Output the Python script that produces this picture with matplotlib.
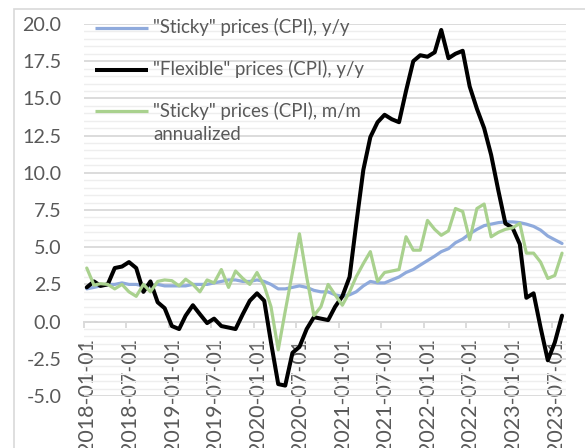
import matplotlib
matplotlib.use("Agg")
import matplotlib.pyplot as plt
import matplotlib.dates as mdates
import matplotlib.transforms as mtransforms
from matplotlib.lines import Line2D
from matplotlib.patches import Rectangle
import numpy as np
import pandas as pd

# ---------------- data ----------------
start_month = "2018-01-01"
n_months = 68
sticky_yy = [2.2, 2.3, 2.4, 2.5, 2.5, 2.6, 2.5, 2.5, 2.4, 2.4,
             2.5, 2.4, 2.4, 2.4, 2.4, 2.5, 2.5, 2.5, 2.6, 2.7,
             2.8, 2.8, 2.7, 2.7, 2.8, 2.7, 2.5, 2.2, 2.2, 2.3,
             2.4, 2.3, 2.1, 2.0, 2.0, 1.8, 1.7, 1.8, 2.0, 2.4,
             2.7, 2.6, 2.6, 2.8, 3.0, 3.3, 3.5, 3.8, 4.1, 4.4,
             4.7, 4.9, 5.3, 5.55, 5.9, 6.2, 6.45, 6.55, 6.65, 6.7,
             6.7, 6.65, 6.55, 6.4, 6.15, 5.75, 5.5, 5.25]
flexible_yy = [2.3, 2.7, 2.4, 2.5, 3.6, 3.7, 4.0, 3.6, 2.0, 2.7,
               1.3, 0.9, -0.3, -0.5, 0.4, 1.1, 0.5, -0.1, 0.2, -0.3,
               -0.4, -0.5, 0.5, 1.4, 1.9, 1.4, -1.4, -4.2, -4.3, -2.1,
               -1.7, -0.5, 0.3, 0.2, 0.1, 1.0, 1.7, 3.0, 6.5, 10.2,
               12.4, 13.4, 13.9, 13.6, 13.4, 15.5, 17.5, 17.9, 17.8, 18.1,
               19.6, 17.7, 18.0, 18.2, 15.8, 14.3, 13.0, 11.2, 8.8, 6.6,
               6.3, 5.2, 1.6, 1.9, -0.4, -2.6, -1.4, 0.4]
sticky_mm = [3.6, 2.45, 2.55, 2.5, 2.2, 2.5, 2.0, 1.7, 2.5, 2.0,
             2.7, 2.8, 2.75, 2.4, 2.85, 2.5, 2.0, 2.8, 2.6, 3.5,
             2.3, 3.4, 2.9, 2.5, 3.3, 2.4, 1.0, -1.9, 0.7, 3.3,
             5.9, 3.0, 0.4, 1.0, 2.5, 1.8, 1.1, 2.0, 3.0, 3.9,
             4.7, 2.7, 3.3, 3.4, 3.5, 5.7, 4.8, 4.8, 6.8, 6.2,
             5.8, 6.1, 7.6, 7.4, 5.5, 7.6, 7.9, 5.7, 6.0, 6.2,
             6.3, 6.6, 4.6, 4.6, 4.0, 2.9, 3.1, 4.6]
series_labels = ['"Sticky" prices (CPI), y/y',
                 '"Flexible" prices (CPI), y/y',
                 '"Sticky" prices (CPI), m/m\nannualized']
series_colors = ["#8FAADC", "#000000", "#A9D18E"]
series_widths = [2.3, 2.9, 2.3]
x_start, x_end = "2018-01-01", "2023-09-01"
tick_dates = pd.date_range("2018-01-01", "2023-07-01", freq="6MS")
y_min, y_max, y_major, y_minor = -5.0, 20.0, 2.5, 0.5

# monthly observations plotted mid-month
dates = pd.date_range(start_month, periods=n_months, freq="MS") + pd.Timedelta(days=14)

# ---------------- figure ----------------
W, H = 585, 448
DPI = 100
fig = plt.figure(figsize=(W / DPI, H / DPI), dpi=DPI)
fig.patch.set_facecolor("white")
plt.rcParams["font.family"] = ["Lato", "DejaVu Sans"]

L, R, T, B = 83.5, 566, 24, 396
ax = fig.add_axes([L / W, 1 - B / H, (R - L) / W, (B - T) / H])

text_col = "#595959"
grid_major = "#D9D9D9"
grid_minor = "#EEEEEE"

all_series = [sticky_yy, flexible_yy, sticky_mm]
for vals, col, lw in zip(all_series, series_colors, series_widths):
    ax.plot(dates, vals, color=col, lw=lw, solid_joinstyle="round",
            solid_capstyle="round", zorder=3)

ax.set_xlim(pd.Timestamp(x_start), pd.Timestamp(x_end))
ax.set_ylim(y_min, y_max)

ax.set_yticks(np.arange(y_min, y_max + 0.01, y_major))
ax.set_yticks(np.arange(y_min, y_max + 0.01, y_minor), minor=True)
ax.yaxis.set_major_formatter(matplotlib.ticker.FormatStrFormatter("%.1f"))
ax.grid(axis="y", which="major", color=grid_major, lw=1.3, zorder=0)
ax.grid(axis="y", which="minor", color=grid_minor, lw=1.0, zorder=0)
ax.tick_params(axis="y", which="both", length=0, pad=16, labelsize=14.2,
               labelcolor=text_col)

for s in ["left", "right", "top"]:
    ax.spines[s].set_visible(False)
ax.spines["bottom"].set_position(("data", 0))
ax.spines["bottom"].set_color(grid_major)
ax.spines["bottom"].set_linewidth(1.4)
ax.spines["bottom"].set_zorder(1)

ax.set_xticks(tick_dates)
ax.xaxis.set_major_formatter(mdates.DateFormatter("%Y-%m-%d"))
ax.tick_params(axis="x", which="major", direction="out", length=4.5, width=1.3,
               color=grid_major, pad=7, labelsize=15.5, labelcolor=text_col,
               labelrotation=90)
ax.tick_params(axis="x", which="minor", length=0)
offset = mtransforms.ScaledTranslation(4 / DPI, 0, fig.dpi_scale_trans)
for lab in ax.get_xticklabels():
    lab.set_transform(lab.get_transform() + offset)

# ---------------- legend (manual, handle aligned with first line) ----------------
def fx(px):
    return px / W

def fy(py):
    return 1 - py / H

rows_y = [28, 70, 111]
line_step = 24
shift = mtransforms.ScaledTranslation(0, -5.5 / DPI, fig.dpi_scale_trans)
for lab, col, lw, yy in zip(series_labels, series_colors, series_widths, rows_y):
    fig.add_artist(Line2D([fx(95), fx(148)], [fy(yy), fy(yy)], color=col, lw=lw,
                          solid_capstyle="butt"))
    for k, part in enumerate(lab.split("\n")):
        fig.text(fx(153), fy(yy + k * line_step), part, ha="left", va="baseline",
                 fontsize=13.4, color=text_col,
                 transform=fig.transFigure + shift)

# chart border
fig.add_artist(Rectangle((fx(14), fy(H + 20)), fx(W + 20), fy(9) - fy(H + 20),
                         transform=fig.transFigure, fill=False,
                         edgecolor="#D9D9D9", lw=1.2))

fig.savefig("out.png", dpi=DPI, facecolor="white")
